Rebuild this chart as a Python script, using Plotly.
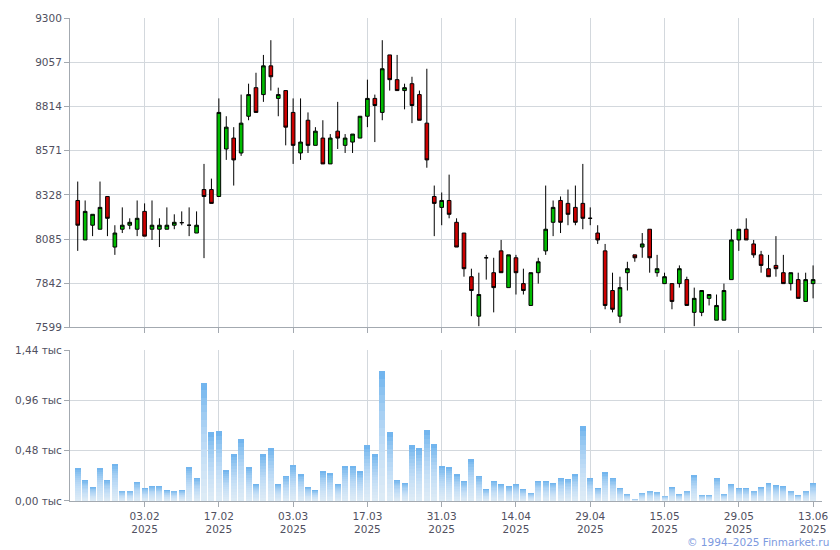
import plotly.graph_objects as go

# ---- data ----
opens = [8297, 8080, 8161, 8139, 8319, 8041, 8139, 8161, 8139, 8237,
         8139, 8139, 8139, 8161, 8175, 8161, 8118, 8357, 8357, 8319,
         8580, 8640, 8558, 8760, 8917, 8879, 9037, 8858, 8901, 8781,
         8558, 8738, 8600, 8640, 8498, 8678, 8600, 8618, 8640, 8760,
         8858, 8781, 9097, 8961, 8901, 8939, 8879, 8722, 8319, 8259,
         8297, 8177, 8118, 7878, 7661, 7982, 7900, 8020, 7818, 7982,
         7840, 7720, 7900, 8020, 8177, 8297, 8281, 8259, 8281, 8199,
         8118, 8020, 7802, 7661, 7900, 7998, 8041, 8139, 7900, 7840,
         7840, 7840, 7862, 7682, 7682, 7759, 7639, 7639, 7862, 8080,
         8139, 8058, 7998, 7922, 7940, 7900, 7840, 7862, 7742, 7840]
highs = [8401, 8297, 8221, 8401, 8319, 8161, 8259, 8199, 8297, 8281,
         8297, 8199, 8259, 8221, 8237, 8259, 8237, 8498, 8417, 8858,
         8760, 8700, 8879, 8939, 8999, 9097, 9178, 8917, 8901, 8858,
         8858, 8781, 8700, 8738, 8662, 8839, 8662, 8662, 8760, 8961,
         8879, 9178, 9097, 9097, 8939, 8977, 8901, 9021, 8379, 8341,
         8439, 8199, 8118, 7922, 7900, 7998, 7982, 8080, 7998, 7998,
         7922, 7900, 7982, 8379, 8297, 8319, 8357, 8379, 8498, 8259,
         8161, 8058, 7900, 7878, 7960, 7998, 8118, 8139, 7998, 7900,
         7840, 7940, 7878, 7818, 7802, 7780, 7780, 7840, 8139, 8139,
         8199, 8080, 8020, 7998, 8101, 7998, 7900, 7900, 7900, 7940]
lows = [8020, 8080, 8101, 8139, 8101, 7998, 8118, 8139, 8101, 8101,
        8080, 8041, 8139, 8139, 8161, 8101, 8118, 7980, 8281, 8319,
        8520, 8379, 8542, 8738, 8781, 8839, 8901, 8760, 8600, 8498,
        8520, 8558, 8600, 8498, 8498, 8580, 8558, 8558, 8640, 8700,
        8618, 8738, 8901, 8901, 8798, 8722, 8738, 8477, 8101, 8161,
        8199, 8041, 7878, 7661, 7606, 7862, 7682, 7900, 7818, 7780,
        7780, 7720, 7840, 7998, 8101, 8118, 8161, 8161, 8139, 8161,
        8058, 7699, 7682, 7623, 7802, 7960, 7982, 7900, 7878, 7840,
        7699, 7818, 7720, 7606, 7661, 7720, 7639, 7639, 7862, 8020,
        8080, 7982, 7900, 7878, 7878, 7840, 7802, 7759, 7742, 7759]
closes = [8161, 8237, 8221, 8259, 8199, 8118, 8161, 8177, 8199, 8101,
          8161, 8161, 8161, 8177, 8175, 8161, 8161, 8319, 8281, 8781,
          8700, 8520, 8722, 8879, 8781, 9037, 8977, 8879, 8700, 8600,
          8618, 8600, 8678, 8498, 8640, 8640, 8640, 8662, 8760, 8858,
          8819, 9021, 8961, 8901, 8917, 8819, 8738, 8520, 8281, 8297,
          8221, 8041, 7922, 7802, 7780, 7982, 7818, 7900, 7998, 7900,
          7802, 7900, 7960, 8139, 8259, 8177, 8221, 8177, 8199, 8199,
          8080, 7720, 7699, 7818, 7922, 7982, 8058, 7982, 7922, 7878,
          7742, 7922, 7720, 7759, 7802, 7780, 7720, 7802, 8080, 8139,
          8080, 7998, 7940, 7878, 7922, 7840, 7900, 7759, 7862, 7862]
volumes = [313, 199, 133, 313, 199, 351, 95, 95, 180, 123,
           142, 142, 104, 95, 104, 322, 218, 1127, 654, 663,
           294, 445, 587, 322, 161, 445, 502, 161, 237, 341,
           256, 133, 104, 284, 265, 161, 332, 332, 284, 531,
           445, 1241, 654, 199, 171, 531, 502, 673, 540, 332,
           322, 256, 189, 398, 237, 114, 189, 161, 142, 161,
           114, 76, 189, 189, 171, 218, 208, 256, 711, 218,
           123, 275, 218, 123, 66, 19, 76, 95, 85, 47,
           133, 66, 95, 246, 57, 57, 218, 66, 161, 123,
           123, 95, 133, 171, 152, 142, 95, 57, 95, 171]
bar_index = list(range(len(opens)))

x_tick_index = [9, 19, 29, 39, 49, 59, 69, 79, 89, 99]
x_tick_labels = ["03.02<br>2025", "17.02<br>2025", "03.03<br>2025", "17.03<br>2025",
                 "31.03<br>2025", "14.04<br>2025", "29.04<br>2025", "15.05<br>2025",
                 "29.05<br>2025", "13.06<br>2025"]
price_ticks = [7599, 7842, 8085, 8328, 8571, 8814, 9057, 9300]
vol_ticks = [0, 480, 960, 1440]
vol_tick_labels = ["0,00 тыс", "0,48 тыс", "0,96 тыс", "1,44 тыс"]

# ---- styling ----
GRID = "#d3d8dd"
AXIS = "#a3a9b0"
TXT = "#505060"
FONT = "DejaVu Sans"

fig = go.Figure()

fig.add_trace(go.Candlestick(
    x=bar_index, open=opens, high=highs, low=lows, close=closes,
    increasing=dict(fillcolor="#00bb00", line=dict(color="#000000", width=1)),
    decreasing=dict(fillcolor="#cc0000", line=dict(color="#000000", width=1)),
    whiskerwidth=0, xaxis="x", yaxis="y", showlegend=False, hoverinfo="skip",
))

# volume bars: solid blue, then white translucent layers give a per-bar vertical gradient
fig.add_trace(go.Bar(x=bar_index, y=volumes, width=0.8, marker=dict(color="#72b5ee", line=dict(width=0)),
                     xaxis="x2", yaxis="y2", showlegend=False, hoverinfo="skip"))
N = 16
for k in range(1, N):
    frac = k / N
    fig.add_trace(go.Bar(x=bar_index, y=[v * frac for v in volumes], width=0.8,
                         marker=dict(color="rgba(255,255,255,0.095)", line=dict(width=0)),
                         xaxis="x2", yaxis="y2", showlegend=False, hoverinfo="skip"))

xrange = [-1.04, 100.2]
common_x = dict(range=xrange, showgrid=True, gridcolor=GRID, gridwidth=1,
                tickmode="array", tickvals=x_tick_index, ticks="outside", ticklen=5,
                tickcolor=AXIS, showline=True, linecolor=AXIS, linewidth=1,
                zeroline=False, fixedrange=True)

fig.update_layout(
    width=840, height=550,
    margin=dict(l=70, r=18, t=14, b=49),
    paper_bgcolor="white", plot_bgcolor="white",
    barmode="overlay", bargap=0,
    font=dict(family=FONT, size=10.5, color=TXT),
    xaxis=dict(**common_x, anchor="y", domain=[0, 1], ticktext=[""] * len(x_tick_index),
               rangeslider=dict(visible=False)),
    yaxis=dict(domain=[0.3593, 1], range=[7599, 9300], tickmode="array", tickvals=price_ticks,
               ticktext=[str(t) for t in price_ticks], showgrid=True, gridcolor=GRID,
               ticks="outside", ticklen=5, tickcolor=AXIS, showline=True, linecolor=AXIS,
               zeroline=False, fixedrange=True),
    xaxis2=dict(**common_x, anchor="y2", domain=[0, 1], ticktext=x_tick_labels,
                tickfont=dict(family=FONT, size=10.5, color=TXT)),
    yaxis2=dict(domain=[0, 0.3121], range=[0, 1440], tickmode="array", tickvals=vol_ticks,
                ticktext=vol_tick_labels, showgrid=True, gridcolor=GRID,
                ticks="outside", ticklen=5, tickcolor=AXIS, showline=True, linecolor=AXIS,
                zeroline=False, fixedrange=True),
    annotations=[dict(text="© 1994–2025 Finmarket.ru", xref="paper", yref="paper",
                      x=1.012, y=-0.084, xanchor="right", yanchor="middle", showarrow=False,
                      font=dict(family=FONT, size=10.5, color="#7d9ae0"))],
)

fig.write_html("out.html", config={"displayModeBar": False},
               post_script="document.body.style.margin='0';document.body.style.overflow='hidden';")
